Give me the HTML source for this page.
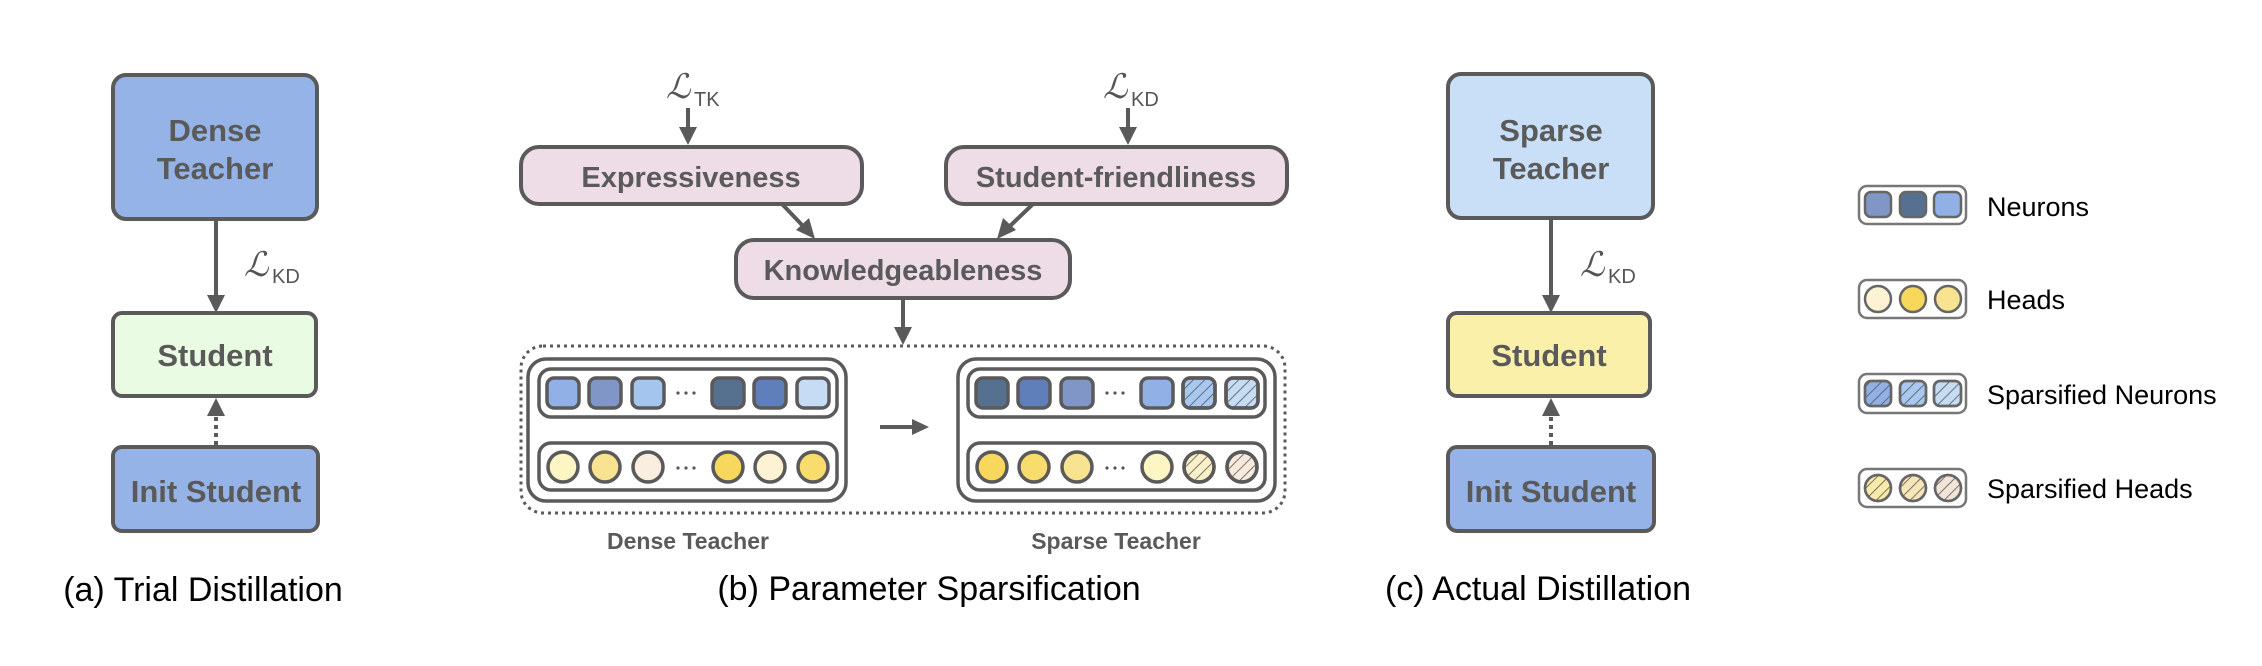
<!DOCTYPE html>
<html><head><meta charset="utf-8"><style>
html,body{margin:0;padding:0;background:#fff;}
svg{display:block;}
.b{font-family:"Liberation Sans",sans-serif;font-weight:bold;fill:#5a5a5a;}
.c{font-family:"Liberation Sans",sans-serif;fill:#000;font-size:34px;}
.l{font-family:"DejaVu Serif",serif;font-style:italic;fill:#555;font-size:34px;}
.s{font-family:"Liberation Sans",sans-serif;fill:#555;font-size:20px;}
.lg{font-family:"Liberation Sans",sans-serif;fill:#000;font-size:27px;}
</style></head><body>
<svg width="2262" height="666" viewBox="0 0 2262 666" xmlns="http://www.w3.org/2000/svg">
<defs>
<pattern id="h" patternUnits="userSpaceOnUse" width="8" height="8" patternTransform="rotate(45)">
<line x1="0" y1="0" x2="0" y2="8" stroke="#555" stroke-width="1.6"/>
</pattern>
</defs>
<g stroke="#5a5a5a" fill="none">
<!-- (a) -->
<rect x="113" y="75" width="204" height="144" rx="13" fill="#95b3e6" stroke-width="4"/>
<rect x="113" y="313" width="203" height="83" rx="9" fill="#eafbe3" stroke-width="4"/>
<rect x="113" y="447" width="205" height="84" rx="9" fill="#95b3e6" stroke-width="4"/>
<line x1="216" y1="219" x2="216" y2="296" stroke-width="4"/>
<path d="M207,295 L225,295 L216,313 z" fill="#5a5a5a" stroke="none"/>
<line x1="216" y1="445" x2="216" y2="414" stroke-width="4" stroke-dasharray="4 4"/>
<path d="M207,416 L225,416 L216,398 z" fill="#5a5a5a" stroke="none"/>
<!-- (c) -->
<rect x="1448" y="74" width="205" height="144" rx="13" fill="#c8dff7" stroke-width="4"/>
<rect x="1448" y="313" width="202" height="83" rx="9" fill="#faf0aa" stroke-width="4"/>
<rect x="1448" y="447" width="206" height="84" rx="9" fill="#95b3e6" stroke-width="4"/>
<line x1="1551" y1="218" x2="1551" y2="296" stroke-width="4"/>
<path d="M1542,295 L1560,295 L1551,313 z" fill="#5a5a5a" stroke="none"/>
<line x1="1551" y1="445" x2="1551" y2="414" stroke-width="4" stroke-dasharray="4 4"/>
<path d="M1542,416 L1560,416 L1551,398 z" fill="#5a5a5a" stroke="none"/>
<!-- (b) top -->
<rect x="521" y="147" width="341" height="57" rx="18" fill="#eedce7" stroke-width="4"/>
<rect x="946" y="147" width="341" height="57" rx="18" fill="#eedce7" stroke-width="4"/>
<rect x="736" y="240" width="334" height="58" rx="18" fill="#eedce7" stroke-width="4"/>
<line x1="688" y1="108" x2="688" y2="128" stroke-width="4"/>
<path d="M679,127 L697,127 L688,145 z" fill="#5a5a5a" stroke="none"/>
<line x1="1128" y1="108" x2="1128" y2="128" stroke-width="4"/>
<path d="M1119,127 L1137,127 L1128,145 z" fill="#5a5a5a" stroke="none"/>
<line x1="782" y1="204" x2="803" y2="226" stroke-width="4"/>
<path d="M796,230 L809,218 L815,239 z" fill="#5a5a5a" stroke="none"/>
<line x1="1033" y1="204" x2="1010" y2="226" stroke-width="4"/>
<path d="M1003,218 L1016,230 L997,239 z" fill="#5a5a5a" stroke="none"/>
<line x1="903" y1="298" x2="903" y2="328" stroke-width="4"/>
<path d="M894,327 L912,327 L903,345 z" fill="#5a5a5a" stroke="none"/>
<line x1="880" y1="427" x2="914" y2="427" stroke-width="4"/>
<path d="M912,419 L929,427 L912,435 z" fill="#5a5a5a" stroke="none"/>
<!-- (b) containers -->
<rect x="521" y="346" width="764" height="167" rx="22" stroke-width="3" stroke-dasharray="3 4"/>
<rect x="528" y="359" width="318" height="142" rx="18" stroke-width="3.5" fill="#fff"/>
<rect x="958" y="359" width="317" height="142" rx="18" stroke-width="3.5" fill="#fff"/>
<rect x="539" y="369" width="298" height="48" rx="12" stroke-width="3.5"/>
<rect x="539" y="443" width="298" height="47" rx="12" stroke-width="3.5"/>
<rect x="968" y="369" width="297" height="48" rx="12" stroke-width="3.5"/>
<rect x="968" y="443" width="297" height="47" rx="12" stroke-width="3.5"/>
<g stroke-width="3.5">
<rect x="547" y="378" width="32" height="30" rx="7" fill="#91b1e6"/>
<rect x="589" y="378" width="32" height="30" rx="7" fill="#7f96c6"/>
<rect x="632" y="378" width="32" height="30" rx="7" fill="#a4c6ee"/>
<rect x="712" y="378" width="32" height="30" rx="7" fill="#56708f"/>
<rect x="754" y="378" width="32" height="30" rx="7" fill="#5f7fbb"/>
<rect x="797" y="378" width="32" height="30" rx="7" fill="#c6dcf5"/>
<circle cx="563" cy="467" r="15" fill="#fdf5c4"/>
<circle cx="605" cy="467" r="15" fill="#f8e391"/>
<circle cx="648" cy="467" r="15" fill="#faeee0"/>
<circle cx="728" cy="467" r="15" fill="#f8d85c"/>
<circle cx="770" cy="467" r="15" fill="#fdf3d4"/>
<circle cx="813" cy="467" r="15" fill="#f8dd6d"/>
<rect x="976" y="378" width="32" height="30" rx="7" fill="#56708f"/>
<rect x="1018" y="378" width="32" height="30" rx="7" fill="#5f7fbb"/>
<rect x="1061" y="378" width="32" height="30" rx="7" fill="#7f96c6"/>
<rect x="1141" y="378" width="32" height="30" rx="7" fill="#91b1e6"/>
<rect x="1183" y="378" width="32" height="30" rx="7" fill="#a8c8f0"/>
<rect x="1183" y="378" width="32" height="30" rx="7" fill="url(#h)"/>
<rect x="1226" y="378" width="32" height="30" rx="7" fill="#c6dcf5"/>
<rect x="1226" y="378" width="32" height="30" rx="7" fill="url(#h)"/>
<circle cx="992" cy="467" r="15" fill="#f8d85c"/>
<circle cx="1034" cy="467" r="15" fill="#f8dd6d"/>
<circle cx="1077" cy="467" r="15" fill="#f8e391"/>
<circle cx="1157" cy="467" r="15" fill="#fdf5c4"/>
<circle cx="1199" cy="467" r="15" fill="#fbf0c8"/>
<circle cx="1199" cy="467" r="15" fill="url(#h)"/>
<circle cx="1242" cy="467" r="15" fill="#f8eadc"/>
<circle cx="1242" cy="467" r="15" fill="url(#h)"/>
</g>
<g stroke="#777" stroke-width="2.5">
<rect x="1859" y="186" width="107" height="38" rx="8" fill="#fff"/>
<rect x="1859" y="280" width="107" height="38" rx="8" fill="#fff"/>
<rect x="1859" y="374" width="107" height="39" rx="8" fill="#fff"/>
<rect x="1859" y="469" width="107" height="38" rx="8" fill="#fff"/>
</g>
<g stroke="#666" stroke-width="2.5">
<rect x="1865" y="192" width="26" height="25" rx="6" fill="#7f96c6"/>
<rect x="1900" y="192" width="26" height="25" rx="6" fill="#56708f"/>
<rect x="1934" y="192" width="27" height="25" rx="6" fill="#91b1e6"/>
<circle cx="1878" cy="299" r="13" fill="#fdf3d4"/>
<circle cx="1913" cy="299" r="13" fill="#f8d85c"/>
<circle cx="1948" cy="299" r="13" fill="#f8e391"/>
<rect x="1865" y="381" width="26" height="25" rx="6" fill="#91b1e6"/>
<rect x="1865" y="381" width="26" height="25" rx="6" fill="url(#h)"/>
<rect x="1900" y="381" width="26" height="25" rx="6" fill="#a8c8f0"/>
<rect x="1900" y="381" width="26" height="25" rx="6" fill="url(#h)"/>
<rect x="1934" y="381" width="27" height="25" rx="6" fill="#c6dcf5"/>
<rect x="1934" y="381" width="27" height="25" rx="6" fill="url(#h)"/>
<circle cx="1878" cy="488" r="13" fill="#f8eaa8"/>
<circle cx="1878" cy="488" r="13" fill="url(#h)"/>
<circle cx="1913" cy="488" r="13" fill="#f8e6b8"/>
<circle cx="1913" cy="488" r="13" fill="url(#h)"/>
<circle cx="1948" cy="488" r="13" fill="#f3e4d8"/>
<circle cx="1948" cy="488" r="13" fill="url(#h)"/>
</g>
</g>
<g fill="#555">
<circle cx="678" cy="393" r="1.6"/><circle cx="686" cy="393" r="1.6"/><circle cx="694" cy="393" r="1.6"/>
<circle cx="678" cy="468" r="1.6"/><circle cx="686" cy="468" r="1.6"/><circle cx="694" cy="468" r="1.6"/>
<circle cx="1107" cy="393" r="1.6"/><circle cx="1115" cy="393" r="1.6"/><circle cx="1123" cy="393" r="1.6"/>
<circle cx="1107" cy="468" r="1.6"/><circle cx="1115" cy="468" r="1.6"/><circle cx="1123" cy="468" r="1.6"/>
</g>
<g class="b" text-anchor="middle" font-size="31">
<text x="215" y="141">Dense</text>
<text x="215" y="179">Teacher</text>
<text x="215" y="366">Student</text>
<text x="216" y="502">Init Student</text>
<text x="1551" y="141">Sparse</text>
<text x="1551" y="179">Teacher</text>
<text x="1549" y="366">Student</text>
<text x="1551" y="502">Init Student</text>
<text x="691" y="187" font-size="29">Expressiveness</text>
<text x="1116" y="187" font-size="29">Student-friendliness</text>
<text x="903" y="280" font-size="29">Knowledgeableness</text>
<text x="688" y="549" font-size="23">Dense Teacher</text>
<text x="1116" y="549" font-size="23">Sparse Teacher</text>
</g>
<g>
<text class="l" x="244" y="276">ℒ</text><text class="s" x="272" y="283">KD</text>
<text class="l" x="1580" y="276">ℒ</text><text class="s" x="1608" y="283">KD</text>
<text class="l" x="666" y="98">ℒ</text><text class="s" x="694" y="106">TK</text>
<text class="l" x="1103" y="98">ℒ</text><text class="s" x="1131" y="106">KD</text>
</g>
<g class="c" text-anchor="middle">
<text x="203" y="601">(a) Trial Distillation</text>
<text x="929" y="600">(b) Parameter Sparsification</text>
<text x="1538" y="600">(c) Actual Distillation</text>
</g>
<g class="lg">
<text x="1987" y="216">Neurons</text>
<text x="1987" y="309">Heads</text>
<text x="1987" y="404">Sparsified Neurons</text>
<text x="1987" y="498">Sparsified Heads</text>
</g>
</svg>
</body></html>
